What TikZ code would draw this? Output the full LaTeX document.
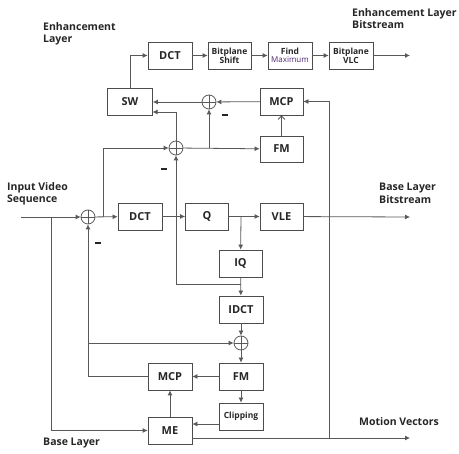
\documentclass[tikz,border=0pt]{standalone}
\usepackage{fontspec}
\setmainfont{Open Sans}
\usetikzlibrary{arrows.meta}
\begin{document}
\begin{tikzpicture}[x=1pt,y=-1pt,
  ln/.style={draw=black!65, line width=0.8pt},
  arr/.style={ln, -{Latex[length=5pt,width=5pt]}},
  oarr/.style={ln, -{Straight Barb[length=3.5pt,width=7pt]}},
  blk/.style={draw=black!70, line width=0.8pt, minimum width=44pt, minimum height=27pt, inner sep=0pt, font=\bfseries\fontsize{11}{12}\selectfont, text=black!85, align=center},
  sblk/.style={blk, font=\bfseries\fontsize{8.5}{9}\selectfont},
  sum/.style={circle, draw=black!65, line width=0.8pt, minimum size=14pt, inner sep=0pt,
    path picture={\draw[black!65, line width=0.6pt] (path picture bounding box.north) -- (path picture bounding box.south)
      (path picture bounding box.west) -- (path picture bounding box.east);}},
  lbl/.style={font=\bfseries\fontsize{10.5}{12.5}\selectfont, text=black!85, align=left, inner sep=0pt},
  minus/.style={fill=black!85, minimum width=6pt, minimum height=2pt, inner sep=0pt}
]
\useasboundingbox (0,0) rectangle (459,454);

% labels
\node[lbl, anchor=north west] (lEL) at (43,22) {Enhancement\\Layer};
\node[lbl, anchor=north west] (lELB) at (352,8) {Enhancement Layer\\Bitstream};
\node[lbl, anchor=north west] (lIV) at (7,182) {Input Video\\Sequence};
\node[lbl, anchor=north west] (lBLB) at (379,183) {Base Layer\\Bitstream};
\node[lbl, anchor=west] (lMV) at (359,422) {Motion Vectors};
\node[lbl, anchor=west] (lBL) at (43,443) {Base Layer};

% enhancement layer
\node[blk] (edct) at (170,55.5) {DCT};
\node[sblk, minimum width=43pt] (bshift) at (229.5,55.5) {Bitplane\\Shift};
\node[sblk] (find) at (290,55.5) {Find\\[-1pt]{\mdseries\fontsize{8}{9}\selectfont\color[rgb]{0.3,0.15,0.45}Maximum}};
\node[sblk] (bvlc) at (351,55.5) {Bitplane\\VLC};
\coordinate (eout) at (410,55.5);

\node[blk, minimum width=45pt] (sw) at (130,101.5) {SW};
\node[sum] (es1) at (209,102) {};
\node[blk, minimum width=43pt] (emcp) at (281.5,101.5) {MCP};
\node[sum] (es2) at (176,148) {};
\node[blk, minimum width=43pt, minimum height=26pt] (efm) at (281.5,149) {FM};

% base layer
\coordinate (in) at (21,217);
\node[sum] (bs) at (88,217) {};
\node[blk] (bdct) at (140,216.5) {DCT};
\node[blk, minimum width=43pt] (q) at (207,216.5) {Q};
\node[blk, minimum width=43pt] (vle) at (281.5,216.5) {VLE};
\coordinate (bout) at (410,217);
\node[blk, minimum width=43pt] (iq) at (240.5,263.5) {IQ};
\node[blk] (idct) at (241,309.5) {IDCT};
\node[sum] (bs2) at (241,343) {};
\node[blk] (bfm) at (241,376.5) {FM};
\node[sblk] (clip) at (241,416.5) {Clipping};
\node[blk] (bmcp) at (170,376.5) {MCP};
\node[blk] (me) at (170,430.5) {ME};
\coordinate (mvout) at (410,438);

% junctions
\coordinate (j1) at (51,217);
\coordinate (j2) at (103,217);
\coordinate (j3) at (209,148);
\coordinate (j4) at (241,217);
\coordinate (j5) at (241,284);
\coordinate (j6) at (88,343);
\coordinate (j7) at (329,438);
\coordinate (swin) at (152.5,112);

% top chain
\draw[arr] (sw.north) |- (edct.west);
\draw[arr] (edct) -- (bshift);
\draw[arr] (bshift) -- (find);
\draw[arr] (find) -- (bvlc);
\draw[arr] (bvlc) -- (eout);

% enhancement loop
\draw[arr] (es1) -- (es1 -| sw.east);
\draw[arr] (emcp) -- (es1);
\draw[arr] (es2.north) |- (swin);
\draw[arr] (j2) |- (es2.west);
\draw[arr] (es2) -- (efm);
\draw[arr] (j3) -- (es1.south);
\draw[oarr] (efm) -- (emcp);
\draw[arr] (j7) |- (emcp.east);

% main line
\draw[arr] (in) -- (bs);
\draw[arr] (bs) -- (bdct);
\draw[arr] (bdct) -- (q);
\draw[arr] (q) -- (vle);
\draw[arr] (vle) -- (bout);
\draw[arr] (j4) -- (iq);
\draw[arr] (iq) -- (idct);
\draw[arr] (j5) -| (es2.south);
\draw[arr] (idct) -- (bs2);
\draw[arr] (bs2) -- (bfm);
\draw[arr] (bfm) -- (clip);
\draw[arr] (bfm) -- (bmcp);
\draw[arr] (bmcp.west) -| (bs.south);
\draw[arr] (j6) -- (bs2);
\draw[arr] (j1) |- (me.west);
\draw[arr] (clip.west |- 0,424) -- (me.east |- 0,424);
\draw[arr] (me) -- (bmcp);
\draw[arr] (me.east |- mvout) -- (mvout);

% minus signs
\node[minus] (m1) at (98,243) {};
\node[minus] (m2) at (164,169) {};
\node[minus] (m3) at (225,115) {};
\end{tikzpicture}
\end{document}
